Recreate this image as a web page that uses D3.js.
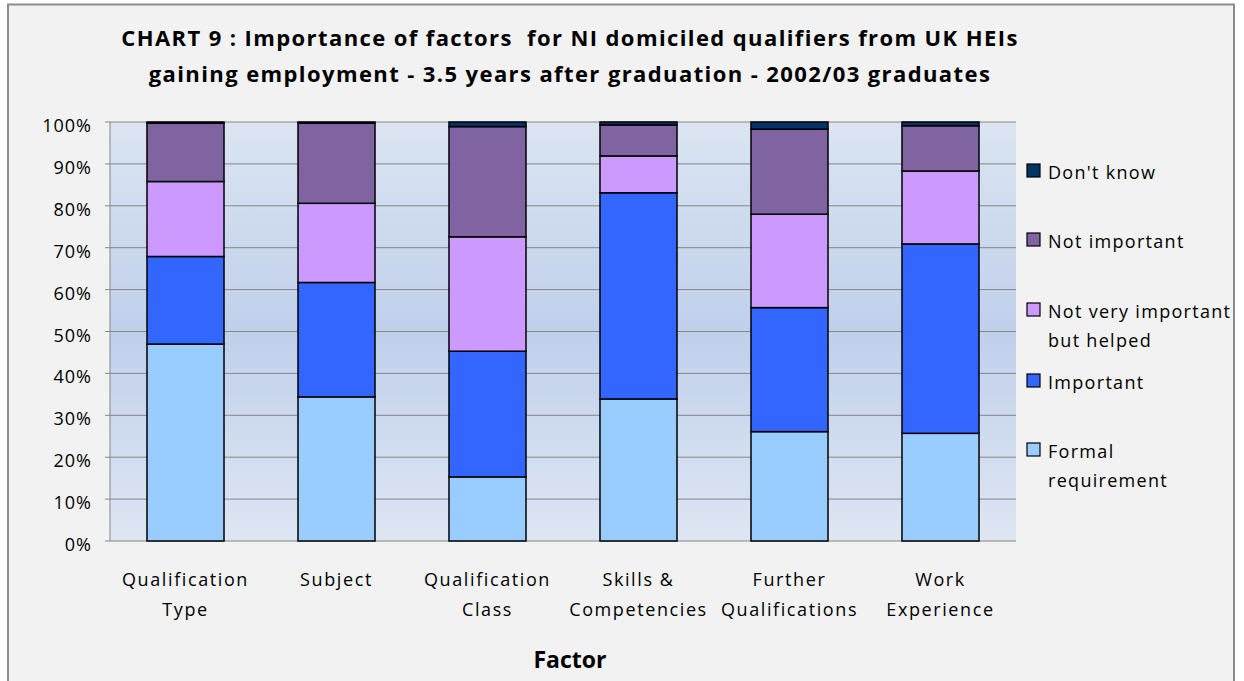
<!DOCTYPE html>
<html>
<head>
<meta charset="utf-8">
<script src="https://cdn.jsdelivr.net/npm/d3@7"></script>
<style>
  body { margin: 0; background: #fff; }
  svg text { font-family: "Open Sans", "Noto Sans", sans-serif; fill: #000; white-space: pre; }
</style>
</head>
<body>
<svg id="chart" width="1244" height="681"></svg>
<script>
// categories (two-line labels)
var categories = [
  ["Qualification", "Type"],
  ["Subject"],
  ["Qualification", "Class"],
  ["Skills &", "Competencies"],
  ["Further", "Qualifications"],
  ["Work", "Experience"]
];

// series, bottom to top
var seriesNames = ["Formal requirement", "Important", "Not very important but helped", "Not important", "Don't know"];
var formalReq    = [47.0, 34.4, 15.3, 33.9, 26.1, 25.7];
var important    = [20.9, 27.3, 30.0, 49.2, 29.6, 45.2];
var notVeryImp   = [17.9, 18.9, 27.3, 8.8, 22.3, 17.4];
var notImportant = [13.9, 19.1, 26.3, 7.4, 20.3, 10.8];
var dontKnow     = [0.3, 0.3, 1.1, 0.7, 1.7, 0.9];
var colors = ["#99ccff", "#3366ff", "#cc99ff", "#8064a2", "#003366"];

var yTicks = [0, 10, 20, 30, 40, 50, 60, 70, 80, 90, 100];

var svg = d3.select("#chart");

// outer frame
svg.append("rect")
  .attr("x", 8).attr("y", 4.5).attr("width", 1226).attr("height", 690)
  .attr("fill", "#f2f2f2").attr("stroke", "#8c8c8c").attr("stroke-width", 2);

var margin = {left: 110, top: 122, right: 1016, bottom: 541};

var x = d3.scaleBand()
  .domain(d3.range(categories.length))
  .range([margin.left, margin.right])
  .paddingInner(0.49).paddingOuter(0.245);

var y = d3.scaleLinear().domain([0, 100]).range([margin.bottom, margin.top]);

// plot background gradient
var defs = svg.append("defs");
var grad = defs.append("linearGradient").attr("id", "bg")
  .attr("x1", 0).attr("y1", 0).attr("x2", 0).attr("y2", 1);
grad.append("stop").attr("offset", "0%").attr("stop-color", "#dbe5f2");
grad.append("stop").attr("offset", "50%").attr("stop-color", "#c0d0eb");
grad.append("stop").attr("offset", "100%").attr("stop-color", "#dee6f3");

svg.append("rect")
  .attr("x", margin.left).attr("y", margin.top)
  .attr("width", margin.right - margin.left).attr("height", margin.bottom - margin.top)
  .attr("fill", "url(#bg)");

// gridlines
svg.append("g").selectAll("line").data(yTicks).join("line")
  .attr("x1", margin.left - 5).attr("x2", margin.right)
  .attr("y1", d => y(d)).attr("y2", d => y(d))
  .attr("stroke", "#868686").attr("stroke-width", 1);

// y axis line
svg.append("line")
  .attr("x1", margin.left).attr("x2", margin.left)
  .attr("y1", margin.top).attr("y2", margin.bottom)
  .attr("stroke", "#868686");

// y labels
svg.append("g").selectAll("text").data(yTicks).join("text")
  .attr("x", margin.left - 18).attr("y", d => y(d) + 10)
  .attr("text-anchor", "end").attr("font-size", 18)
  .attr("letter-spacing", 1)
  .text(d => d + "%");

// stacked bars
var table = categories.map(function(c, i) {
  return {i: i, s0: formalReq[i], s1: important[i], s2: notVeryImp[i], s3: notImportant[i], s4: dontKnow[i]};
});
var stack = d3.stack().keys(["s0", "s1", "s2", "s3", "s4"]);
var layers = stack(table);

svg.append("g").selectAll("g").data(layers).join("g")
  .attr("fill", (d, k) => colors[k])
  .selectAll("rect").data(d => d).join("rect")
  .attr("x", d => x(d.data.i))
  .attr("width", x.bandwidth())
  .attr("y", d => y(d[1]))
  .attr("height", d => y(d[0]) - y(d[1]))
  .attr("stroke", "#000").attr("stroke-width", 1.5);

// x labels
var xl = svg.append("g").selectAll("text").data(categories).join("text")
  .attr("text-anchor", "middle").attr("font-size", 18)
  .attr("letter-spacing", 1.6)
  .attr("x", (d, i) => x(i) + x.bandwidth() / 2)
  .attr("y", 586);
xl.selectAll("tspan").data(d => d).join("tspan")
  .attr("x", function() { return d3.select(this.parentNode).attr("x"); })
  .attr("dy", (d, j) => j === 0 ? 0 : 30)
  .text(d => d);

// axis title
svg.append("text")
  .attr("x", 570).attr("y", 668).attr("text-anchor", "middle")
  .attr("font-size", 23).attr("font-weight", "bold")
  .text("Factor");

// chart title
svg.append("text")
  .attr("x", 570).attr("y", 46).attr("text-anchor", "middle")
  .attr("font-size", 22).attr("font-weight", "bold").attr("letter-spacing", 1.4)
  .text("CHART 9 : Importance of factors  for NI domiciled qualifiers from UK HEIs");
svg.append("text")
  .attr("x", 570).attr("y", 82).attr("text-anchor", "middle")
  .attr("font-size", 22).attr("font-weight", "bold").attr("letter-spacing", 1.4)
  .text("gaining employment - 3.5 years after graduation - 2002/03 graduates");

// legend
var legendItems = [
  {k: 4, lines: ["Don't know"], y: 179},
  {k: 3, lines: ["Not important"], y: 248},
  {k: 2, lines: ["Not very important", "but helped"], y: 318},
  {k: 1, lines: ["Important"], y: 389},
  {k: 0, lines: ["Formal", "requirement"], y: 458}
];
var lg = svg.append("g").selectAll("g").data(legendItems).join("g");
lg.append("rect")
  .attr("x", 1027).attr("y", d => d.y - 15).attr("width", 13).attr("height", 13)
  .attr("fill", d => colors[d.k]).attr("stroke", "#000").attr("stroke-width", 1.2);
lg.append("text")
  .attr("x", 1048).attr("y", d => d.y).attr("font-size", 18)
  .attr("letter-spacing", 1.3)
  .selectAll("tspan").data(d => d.lines).join("tspan")
  .attr("x", 1048).attr("dy", (d, j) => j === 0 ? 0 : 28.5)
  .text(d => d);
</script>
</body>
</html>
